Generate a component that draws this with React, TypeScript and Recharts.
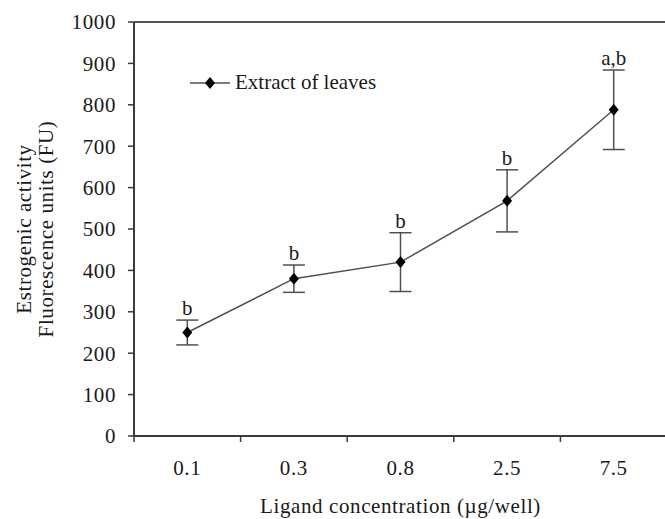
import React from "react"
import {
  ErrorBar,
  LabelList,
  Label,
  Line,
  LineChart,
  ReferenceLine,
  XAxis,
  YAxis,
} from "recharts"

const categories = ["0.1", "0.3", "0.8", "2.5", "7.5"]
const means = [250, 380, 420, 568, 788]
const errors = [30, 33, 71, 75, 96]
const letters = ["b", "b", "b", "b", "a,b"]
const yTicks = [0, 100, 200, 300, 400, 500, 600, 700, 800, 900, 1000]
const xTicks = [0, 0.5, 1, 1.5, 2, 2.5, 3, 3.5, 4, 4.5, 5]

const FONT = "'Liberation Serif', 'Times New Roman', serif"
const AXIS = "#3a3a3a"
const SERIES = "#505050"
const TEXT = "#1a1a1a"
const FS = 21
const LS = 0.6

const data = categories.map((c, i) => ({
  x: i + 0.5,
  name: c,
  mean: means[i],
  err: errors[i],
  top: means[i] + errors[i],
  letter: letters[i],
}))

function Diamond(props: any) {
  const { cx, cy } = props
  if (cx == null || cy == null) return null
  return <path d={`M${cx},${cy - 6} L${cx + 5},${cy} L${cx},${cy + 6} L${cx - 5},${cy} Z`} fill="#000" />
}

function XTick(props: any) {
  const { x, y, payload } = props
  const v = payload.value
  if (Number.isInteger(v)) {
    return <line x1={x} x2={x} y1={y} y2={y + 6} stroke={AXIS} strokeWidth={1.5} />
  }
  return (
    <text x={x} y={y + 39} textAnchor="middle" fontFamily={FONT} fontSize={FS} letterSpacing={LS} fill={TEXT}>
      {categories[Math.floor(v)]}
    </text>
  )
}

function YLabel(props: any) {
  const { viewBox } = props
  const cy = viewBox.y + viewBox.height / 2
  return (
    <g fontFamily={FONT} fontSize={FS} fill={TEXT} letterSpacing={LS}>
      <text x={31} y={cy} textAnchor="middle" transform={`rotate(-90, 31, ${cy})`}>
        Estrogenic activity
      </text>
      <text x={53} y={cy} textAnchor="middle" transform={`rotate(-90, 53, ${cy})`}>
        Fluorescence units (FU)
      </text>
    </g>
  )
}

function LegendBox() {
  return (
    <svg width={220} height={26} style={{ position: "absolute", left: 188, top: 70 }}>
      <line x1={2} x2={42} y1={13} y2={13} stroke={SERIES} strokeWidth={1.5} />
      <path d="M22,7 L27,13 L22,19 L17,13 Z" fill="#000" />
      <text x={47} y={19} fontFamily={FONT} fontSize={FS} fill={TEXT}>
        Extract of leaves
      </text>
    </svg>
  )
}

export default function App() {
  return (
    <div style={{ position: "fixed", left: 0, top: 0, width: 665, height: 519, overflow: "hidden", background: "#fff" }}>
      <LineChart width={667} height={519} data={data} margin={{ top: 22, right: 0, left: 0, bottom: 0 }}>
        <ReferenceLine y={1000} stroke="#555" strokeWidth={2} />
        <XAxis
          dataKey="x"
          type="number"
          domain={[0, 5]}
          ticks={xTicks}
          interval={0}
          height={83}
          tickSize={0}
          tickMargin={0}
          tickLine={false}
          axisLine={{ stroke: AXIS, strokeWidth: 2 }}
          tick={<XTick />}
        >
          <Label
            value="Ligand concentration (µg/well)"
            position="insideBottom"
            offset={6}
            style={{ fontFamily: FONT, fontSize: FS, fill: TEXT, letterSpacing: LS }}
          />
        </XAxis>
        <YAxis
          type="number"
          domain={[0, 1000]}
          ticks={yTicks}
          interval={0}
          width={134}
          tickSize={6}
          tickMargin={12}
          axisLine={{ stroke: AXIS, strokeWidth: 2 }}
          tickLine={{ stroke: AXIS, strokeWidth: 1.5 }}
          tick={{ fontFamily: FONT, fontSize: FS, fill: TEXT, letterSpacing: LS }}
        >
          <Label content={<YLabel />} />
        </YAxis>
        <Line
          dataKey="mean"
          stroke={SERIES}
          strokeWidth={1.5}
          dot={<Diamond />}
          activeDot={false}
          isAnimationActive={false}
        >
          <ErrorBar dataKey="err" direction="y" width={11} stroke={SERIES} strokeWidth={1.5} />
        </Line>
        <Line
          dataKey="top"
          stroke="none"
          dot={false}
          activeDot={false}
          legendType="none"
          isAnimationActive={false}
        >
          <LabelList
            dataKey="letter"
            position="top"
            offset={5}
            style={{ fontFamily: FONT, fontSize: FS, fill: TEXT }}
          />
        </Line>
      </LineChart>
      <LegendBox />
    </div>
  )
}
